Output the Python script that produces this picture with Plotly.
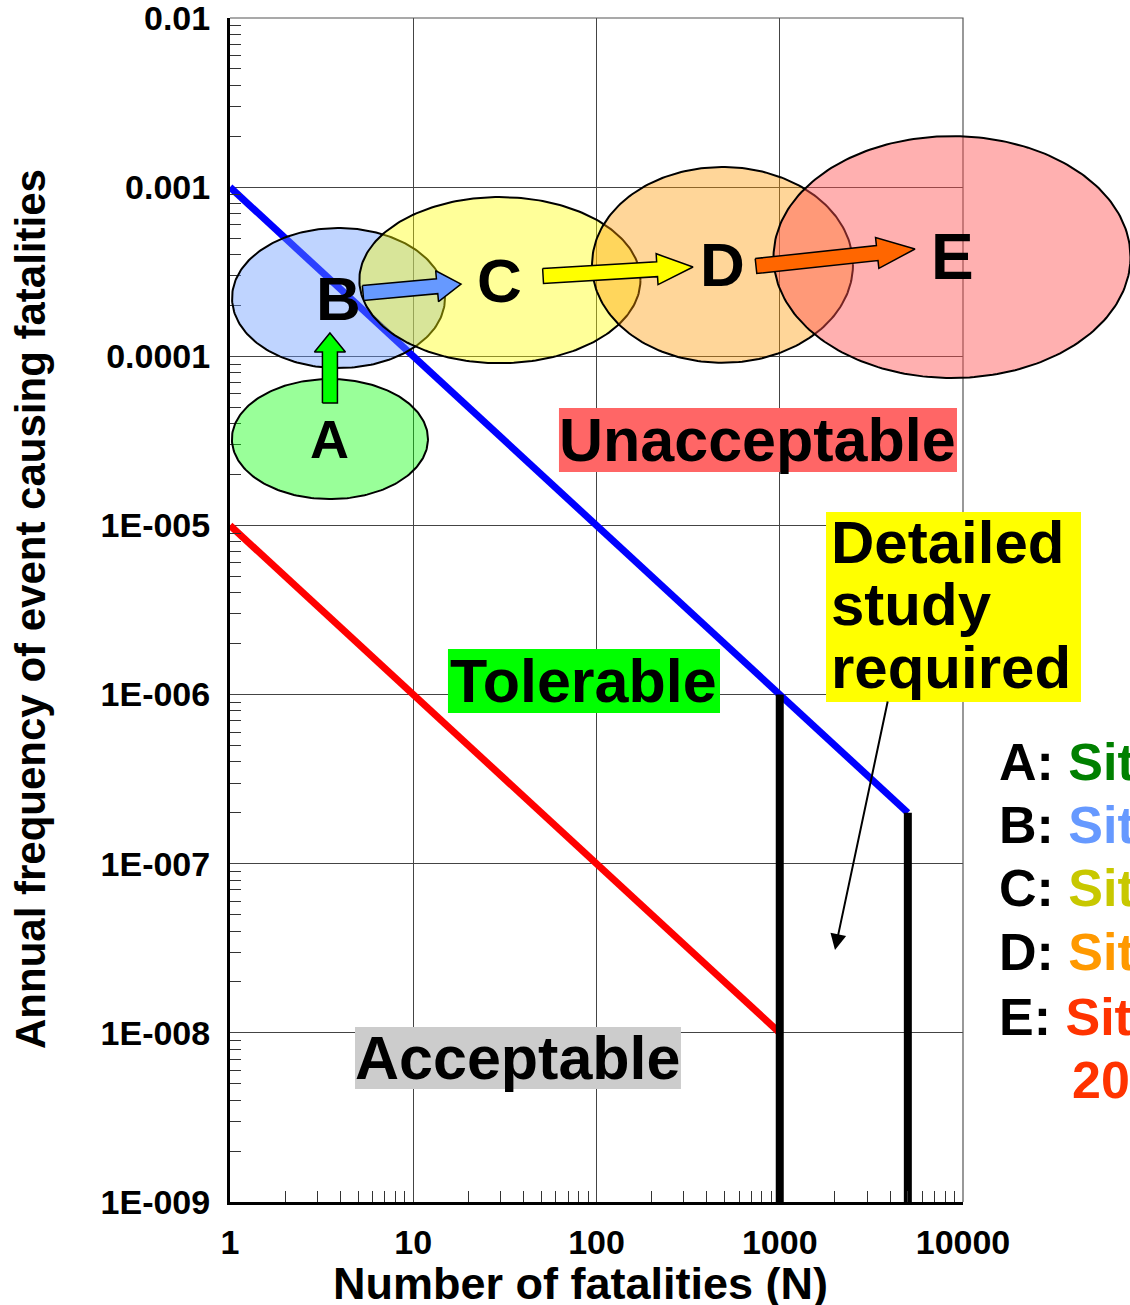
import numpy as np
import plotly.graph_objects as go

W, H = 1130, 1305
FONT = "Liberation Sans, Arial, Helvetica, sans-serif"

# ---- F-N criterion lines -------------------------------------------------
upper_N = [1, 5000]
upper_F = [1e-3, 2e-7]
lower_N = [1, 1000]
lower_F = [1e-5, 1e-8]
cut1000_N = [1000, 1000]
cut1000_F = [1e-6, 1e-9]
cut5000_N = [5000, 5000]
cut5000_F = [2e-7, 1e-9]

# ---- site estimates: centre (N, F) and spread in decades -------------------
site_labels = ["A", "B", "C", "D", "E"]
site_N = [3.51, 3.91, 29.7, 487, 8710]
site_F = [3.24e-5, 2.21e-4, 2.82e-4, 3.47e-4, 3.86e-4]
site_spread_N = [0.535, 0.581, 0.767, 0.712, 0.974]
site_spread_F = [0.355, 0.414, 0.491, 0.579, 0.715]
site_fill = ["rgba(0,255,0,0.40)", "rgba(102,153,255,0.42)", "rgba(255,255,0,0.40)",
             "rgba(255,153,0,0.40)", "rgba(255,80,80,0.45)"]
site_label_size = [54, 62, 62, 62, 64]

# ---- block arrows between successive sites --------------------------------
step_from_N = [3.51, 5.32, 51.1, 742]
step_from_F = [5.29e-5, 2.366e-4, 2.982e-4, 3.417e-4]
step_to_N = [3.51, 18.22, 336.3, 5470]
step_to_F = [1.373e-4, 2.675e-4, 3.371e-4, 4.31e-4]
step_color = ["#00FF00", "#6699FF", "#FFFF00", "#FF6600"]
step_head_len = [19, 24, 36, 38]

# ---- region labels --------------------------------------------------------
region_text = ["Unacceptable", "Tolerable", "Acceptable"]
region_box_N = [(62.4, 9273), (15.47, 472), (4.81, 289)]
region_box_F = [(2.068e-5, 4.945e-5), (7.78e-7, 1.86e-6), (4.66e-9, 1.083e-8)]
region_color = ["#FF6666", "#00FF00", "#CCCCCC"]

study_lines = ["Detailed", "study", "required"]
study_box_N = (1788, 44050)
study_box_F = (9.04e-7, 1.2e-5)
study_text_N = 1857
study_text_F = [7.98e-6, 3.43e-6, 1.455e-6]
study_arrow_from = (3897, 9.29e-7)
study_arrow_to = (2002, 3.09e-8)

# ---- site key --------------------------------------------------------------
key_prefix = ["A: ", "B: ", "C: ", "D: ", "E: ", ""]
key_body = ["Site A", "Site B", "Site C", "Site D", "Site E, scenario", "2050"]
key_color = ["#008000", "#6699FF", "#C8C800", "#FF9900", "#FF3300", "#FF3300"]
key_N = [15330, 15330, 15330, 15330, 15330, 38360]
key_F = [10 ** -6.3987, 10 ** -6.7712, 10 ** -7.1437, 10 ** -7.5221, 10 ** -7.9064, 10 ** -8.2789]

# ---- axes ticks -------------------------------------------------------------
x_tick_vals = [1, 10, 100, 1000, 10000]
x_tick_text = ["1", "10", "100", "1000", "10000"]
y_tick_vals = [1e-9, 1e-8, 1e-7, 1e-6, 1e-5, 1e-4, 1e-3, 1e-2]
y_tick_text = ["1E-009", "1E-008", "1E-007", "1E-006", "1E-005", "0.0001", "0.001", "0.01"]
x_minor = [k * 10 ** d for d in range(0, 4) for k in range(2, 10)]
y_minor = [k * 10 ** d for d in range(-9, -2) for k in range(2, 10)]

# plot area in pixels
PL, PR, PT, PB = 230, 963, 18, 1202
X_DOM = [PL / W, PR / W]
Y_DOM = [(H - PB) / H, (H - PT) / H]
PX_X = (PR - PL) / 4.0   # px per decade
PX_Y = (PB - PT) / 7.0
# overlay axes spanning the whole figure with the same log scale
X2_RANGE = [0 - PL / PX_X, 4 + (W - PR) / PX_X]
Y2_RANGE = [-9 - (H - PB) / PX_Y, -2 + PT / PX_Y]


def ellipse(n, f, rx, ry, num=240):
    t = np.linspace(0, 2 * np.pi, num)
    return 10 ** (np.log10(n) + rx * np.cos(t)), 10 ** (np.log10(f) + ry * np.sin(t))


def block_arrow(n0, f0, n1, f1, head_len, half_shaft=7.5, half_head=15.5):
    p0 = np.array([np.log10(n0) * PX_X, np.log10(f0) * PX_Y])
    p1 = np.array([np.log10(n1) * PX_X, np.log10(f1) * PX_Y])
    d = p1 - p0
    u = d / np.hypot(*d)
    nrm = np.array([-u[1], u[0]])
    base = p1 - u * head_len
    pts = [p0 + nrm * half_shaft, base + nrm * half_shaft, base + nrm * half_head, p1,
           base - nrm * half_head, base - nrm * half_shaft, p0 - nrm * half_shaft,
           p0 + nrm * half_shaft]
    xs = [10 ** (p[0] / PX_X) for p in pts]
    ys = [10 ** (p[1] / PX_Y) for p in pts]
    return xs, ys


def rect(nr, fr):
    return ([nr[0], nr[1], nr[1], nr[0], nr[0]], [fr[0], fr[0], fr[1], fr[1], fr[0]])


fig = go.Figure()

# criterion lines on the main axes
fig.add_trace(go.Scatter(x=upper_N, y=upper_F, mode="lines",
                         line=dict(color="#0000FF", width=7), xaxis="x", yaxis="y"))
fig.add_trace(go.Scatter(x=lower_N, y=lower_F, mode="lines",
                         line=dict(color="#FF0000", width=7), xaxis="x", yaxis="y"))
fig.add_trace(go.Scatter(x=cut1000_N, y=cut1000_F, mode="lines",
                         line=dict(color="#000000", width=8), xaxis="x", yaxis="y"))
fig.add_trace(go.Scatter(x=cut5000_N, y=cut5000_F, mode="lines",
                         line=dict(color="#000000", width=8), xaxis="x", yaxis="y"))

# frame: top and right borders
fig.add_trace(go.Scatter(x=[1, 10000, 10000], y=[1e-2, 1e-2, 1e-9], mode="lines",
                         line=dict(color="#555555", width=1.2), xaxis="x2", yaxis="y2"))

# site ellipses
for i in range(len(site_labels)):
    ex, ey = ellipse(site_N[i], site_F[i], site_spread_N[i], site_spread_F[i])
    fig.add_trace(go.Scatter(x=ex, y=ey, mode="lines", fill="toself",
                             fillcolor=site_fill[i], line=dict(color="#000000", width=2),
                             xaxis="x2", yaxis="y2"))

# block arrows
for i in range(len(step_from_N)):
    ax_, ay_ = block_arrow(step_from_N[i], step_from_F[i], step_to_N[i], step_to_F[i],
                           step_head_len[i])
    fig.add_trace(go.Scatter(x=ax_, y=ay_, mode="lines", fill="toself",
                             fillcolor=step_color[i], line=dict(color="#000000", width=1.5),
                             xaxis="x2", yaxis="y2"))

# region label backgrounds
for i in range(len(region_text)):
    rx_, ry_ = rect(region_box_N[i], region_box_F[i])
    fig.add_trace(go.Scatter(x=rx_, y=ry_, mode="lines", fill="toself",
                             fillcolor=region_color[i], line=dict(width=0),
                             xaxis="x2", yaxis="y2"))
sx_, sy_ = rect(study_box_N, study_box_F)
fig.add_trace(go.Scatter(x=sx_, y=sy_, mode="lines", fill="toself", fillcolor="#FFFF00",
                         line=dict(width=0), xaxis="x2", yaxis="y2"))

annotations = []
# site letters
for i in range(len(site_labels)):
    annotations.append(dict(x=np.log10(site_N[i]), y=np.log10(site_F[i]), xref="x2", yref="y2",
                            text="<b>%s</b>" % site_labels[i], showarrow=False,
                            font=dict(family=FONT, size=site_label_size[i], color="#000000"),
                            xanchor="center", yanchor="middle"))
# region words
for i in range(len(region_text)):
    cx = (np.log10(region_box_N[i][0]) + np.log10(region_box_N[i][1])) / 2
    cy = (np.log10(region_box_F[i][0]) + np.log10(region_box_F[i][1])) / 2
    annotations.append(dict(x=cx, y=cy, xref="x2", yref="y2", text="<b>%s</b>" % region_text[i],
                            showarrow=False, font=dict(family=FONT, size=61, color="#000000"),
                            xanchor="center", yanchor="middle"))
for line, f in zip(study_lines, study_text_F):
    annotations.append(dict(x=np.log10(study_text_N), y=np.log10(f), xref="x2", yref="y2",
                            text="<b>%s</b>" % line, showarrow=False,
                            font=dict(family=FONT, size=60, color="#000000"),
                            xanchor="left", yanchor="middle"))
# pointer from the study box into the zone between the cut-offs
annotations.append(dict(x=np.log10(study_arrow_to[0]), y=np.log10(study_arrow_to[1]),
                        ax=np.log10(study_arrow_from[0]), ay=np.log10(study_arrow_from[1]),
                        xref="x2", yref="y2", axref="x2", ayref="y2", text="",
                        showarrow=True, arrowhead=2, arrowsize=1.6, arrowwidth=2,
                        arrowcolor="#000000"))
# key
for i in range(len(key_body)):
    annotations.append(dict(x=np.log10(key_N[i]), y=np.log10(key_F[i]), xref="x2", yref="y2",
                            text="<b>%s<span style='color:%s'>%s</span></b>"
                                 % (key_prefix[i], key_color[i], key_body[i]),
                            showarrow=False, font=dict(family=FONT, size=52, color="#000000"),
                            xanchor="left", yanchor="middle"))
# axis titles
annotations.append(dict(x=30 / W, y=1 - 609 / H, xref="paper", yref="paper",
                        text="<b>Annual frequency of event causing fatalities</b>",
                        textangle=-90, showarrow=False,
                        font=dict(family=FONT, size=42, color="#000000"),
                        xanchor="center", yanchor="middle"))
annotations.append(dict(x=580 / W, y=1 - 1283 / H, xref="paper", yref="paper",
                        text="<b>Number of fatalities (N)</b>", showarrow=False,
                        font=dict(family=FONT, size=45, color="#000000"),
                        xanchor="center", yanchor="middle"))

tick_font = dict(family=FONT, size=34, color="#000000", weight="bold")

fig.update_layout(
    template="none",
    width=W, height=H,
    autosize=False,
    margin=dict(l=0, r=0, t=0, b=0, pad=0, autoexpand=False),
    paper_bgcolor="#FFFFFF", plot_bgcolor="rgba(0,0,0,0)",
    showlegend=False,
    xaxis=dict(type="log", range=[0, 4], domain=X_DOM, anchor="y", automargin=False,
               tickvals=x_tick_vals, ticktext=x_tick_text, tickfont=tick_font,
               ticklabeloverflow="allow",
               ticks="", showgrid=True, gridcolor="#444444", gridwidth=1,
               showline=True, linecolor="#000000", linewidth=3, zeroline=False,
               ticklabelstandoff=8,
               minor=dict(tickvals=x_minor, ticks="inside", ticklen=11,
                          tickcolor="#333333", tickwidth=1, showgrid=False)),
    yaxis=dict(type="log", range=[-9, -2], domain=Y_DOM, anchor="x", automargin=False,
               tickvals=y_tick_vals, ticktext=y_tick_text, tickfont=tick_font,
               ticklabeloverflow="allow",
               ticks="", showgrid=True, gridcolor="#444444", gridwidth=1,
               showline=True, linecolor="#000000", linewidth=3, zeroline=False,
               ticklabelstandoff=10,
               minor=dict(tickvals=y_minor, ticks="inside", ticklen=11,
                          tickcolor="#333333", tickwidth=1, showgrid=False)),
    xaxis2=dict(type="log", range=X2_RANGE, domain=[0, 1], anchor="y2", visible=False,
                automargin=False, fixedrange=True),
    yaxis2=dict(type="log", range=Y2_RANGE, domain=[0, 1], anchor="x2", visible=False,
                automargin=False, fixedrange=True),
    annotations=annotations,
)

fig.write_html("out.html")
